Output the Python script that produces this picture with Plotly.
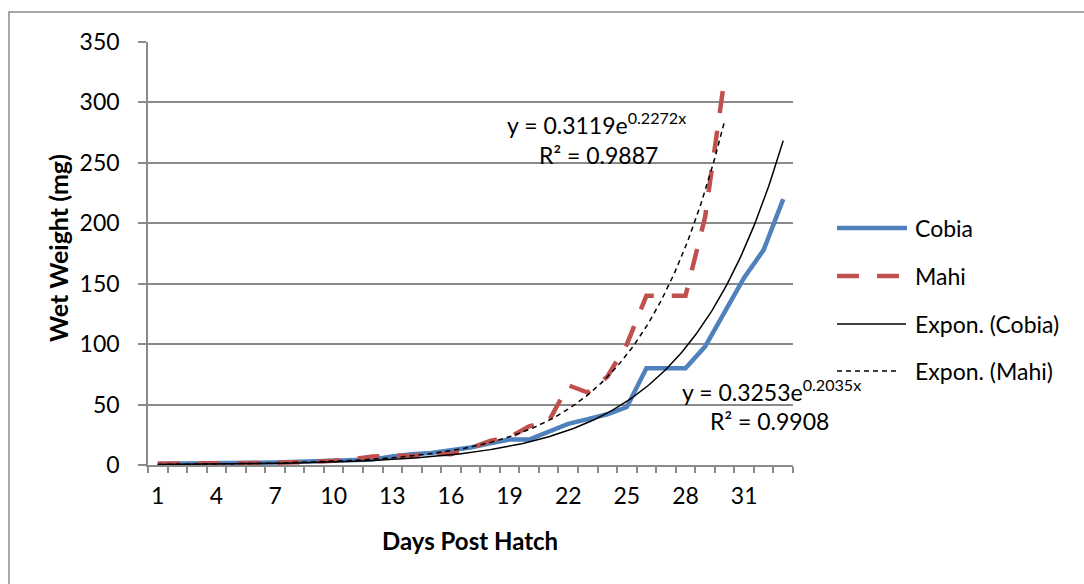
import numpy as np
import plotly.graph_objects as go

# ---- data ----
days_cobia = list(range(1, 34))
cobia = [1, 1, 1, 1.2, 1.5, 1.8, 2, 2.4, 2.8, 3.2, 3.8, 4.5,
         7, 9, 10, 12, 14.5, 18, 21, 21, 28, 34, 38, 42, 48,
         80, 80, 80, 98, 127, 155, 178, 220]
days_mahi = list(range(1, 31))
mahi = [1, 1, 1, 1, 1.2, 1.5, 1.8, 2.2, 2.8, 3.5, 5, 7,
        8, 7.5, 9.5, 9, 14, 20, 23, 32, 36, 66, 60, 73, 100,
        140, 140, 140, 205, 320]
cobia_fit_a, cobia_fit_b = 0.3253, 0.2035
mahi_fit_a, mahi_fit_b = 0.3119, 0.2272
series_names = ["Cobia", "Mahi", "Expon. (Cobia)", "Expon. (Mahi)"]
cobia_eq = ["y = 0.3253e<sup>0.2035x</sup>", "R² = 0.9908"]
mahi_eq = ["y = 0.3119e<sup>0.2272x</sup>", "R² = 0.9887"]
x_tick_vals = list(range(1, 34, 3))
y_tick_vals = list(range(0, 351, 50))

# ---- layout geometry (pixels) ----
W, H = 1084, 584
PL, PR, PT, PB = 148, 793, 42, 465
pw, ph = PR - PL, PB - PT


def px(x):
    return (x - PL) / pw


def py(y):
    return (PB - y) / ph


FONT = "Lato, 'Open Sans', sans-serif"
FS = 23
BLUE = "#4F81BD"
RED = "#C0504D"
GRID = "#8a8a8a"

fig = go.Figure()
fig.add_trace(go.Scatter(x=days_cobia, y=cobia, mode="lines", name=series_names[0],
                         line=dict(color=BLUE, width=4.5)))
fig.add_trace(go.Scatter(x=days_mahi, y=mahi, mode="lines", name=series_names[1],
                         line=dict(color=RED, width=4.5, dash="22px,18px")))
xc = np.linspace(days_cobia[0], days_cobia[-1], 300)
fig.add_trace(go.Scatter(x=xc, y=cobia_fit_a * np.exp(cobia_fit_b * xc), mode="lines",
                         name=series_names[2], line=dict(color="black", width=1.5)))
xm = np.linspace(days_mahi[0], days_mahi[-1], 300)
fig.add_trace(go.Scatter(x=xm, y=mahi_fit_a * np.exp(mahi_fit_b * xm), mode="lines",
                         name=series_names[3], line=dict(color="black", width=1.5, dash="5px,4px")))

shapes = []
annotations = []

# outer chart border
shapes.append(dict(type="rect", xref="paper", yref="paper",
                   x0=px(9), x1=px(1095), y0=py(600), y1=py(12),
                   line=dict(color="#8a8a8a", width=1.5), layer="below"))

# manual legend
leg_x0, txt_x = 837, 913
leg_y = [228, 276, 324, 371]
leg_styles = [dict(color=BLUE, width=4.5), dict(color=RED, width=4.5, dash="22px,18px"),
              dict(color="black", width=1.5), dict(color="black", width=1.5, dash="5px,4px")]
leg_ends = [907, 900, 906, 898]
for name, yy, st, xe in zip(series_names, leg_y, leg_styles, leg_ends):
    shapes.append(dict(type="line", xref="paper", yref="paper",
                       x0=px(leg_x0), x1=px(xe), y0=py(yy), y1=py(yy), line=st))
    annotations.append(dict(text=name, xref="paper", yref="paper", x=px(txt_x), y=py(yy),
                            xanchor="left", yanchor="middle", showarrow=False,
                            font=dict(family=FONT, size=FS, color="black")))

# trendline equations
eq_font = dict(family=FONT, size=FS, color="black")
annotations += [
    dict(text=mahi_eq[0], xref="paper", yref="paper", x=px(505), y=py(124), xanchor="left",
         yanchor="middle", showarrow=False, font=eq_font),
    dict(text=mahi_eq[1], xref="paper", yref="paper", x=px(537), y=py(155), xanchor="left",
         yanchor="middle", showarrow=False, font=eq_font),
    dict(text=cobia_eq[0], xref="paper", yref="paper", x=px(680), y=py(390), xanchor="left",
         yanchor="middle", showarrow=False, font=eq_font),
    dict(text=cobia_eq[1], xref="paper", yref="paper", x=px(708), y=py(421), xanchor="left",
         yanchor="middle", showarrow=False, font=eq_font),
]

# axis titles
annotations.append(dict(text="<b>Days Post Hatch</b>", xref="paper", yref="paper",
                        x=px(470), y=py(540), xanchor="center", yanchor="middle",
                        showarrow=False, font=dict(family=FONT, size=24, color="black")))
annotations.append(dict(text="<b>Wet Weight (mg)</b>", xref="paper", yref="paper",
                        x=px(58), y=py(248), xanchor="center", yanchor="middle", textangle=-90,
                        showarrow=False, font=dict(family=FONT, size=25, color="black")))

fig.update_layout(
    width=W, height=H,
    margin=dict(l=PL, r=W - PR, t=PT, b=H - PB),
    paper_bgcolor="white", plot_bgcolor="white",
    showlegend=False,
    shapes=shapes, annotations=annotations,
    font=dict(family=FONT, size=FS, color="black"),
)
fig.update_xaxes(range=[0.5, 33.5], tickvals=x_tick_vals, ticktext=[str(v) for v in x_tick_vals],
                 ticks="", showgrid=False, zeroline=False,
                 showline=True, linecolor=GRID, linewidth=1.5,
                 minor=dict(ticks="outside", tick0=0.5, dtick=1, ticklen=6, tickcolor=GRID,
                            tickwidth=1.5, showgrid=False),
                 tickfont=dict(family=FONT, size=FS, color="black"), ticklabelstandoff=10)
fig.update_yaxes(range=[0, 350], tickvals=y_tick_vals, ticks="outside", ticklen=8,
                 tickcolor=GRID, tickwidth=1.5, showgrid=True, gridcolor=GRID, gridwidth=1.5,
                 zeroline=False, showline=True, linecolor=GRID, linewidth=1.5,
                 tickfont=dict(family=FONT, size=FS, color="black"), ticklabelstandoff=14)

fig.write_html("out.html")
